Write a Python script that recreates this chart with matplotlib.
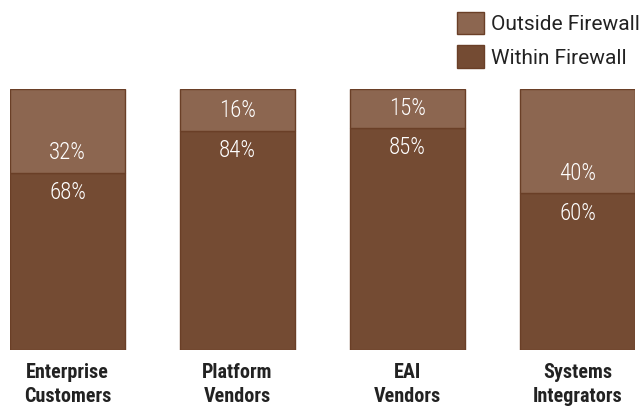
import matplotlib.pyplot as plt

categories = ["Enterprise\nCustomers", "Platform\nVendors", "EAI\nVendors", "Systems\nIntegrators"]
within = [68, 84, 85, 60]
outside = [32, 16, 15, 40]
series_names = ["Within Firewall", "Outside Firewall"]

c_within = "#744b33"
c_outside = "#8c6650"
c_edge = "#6a3f27"
cond = ["Roboto Condensed", "Roboto", "DejaVu Sans"]
regular = ["Roboto", "DejaVu Sans"]

W, H = 641, 409
fig = plt.figure(figsize=(W / 100, H / 100), dpi=100)
ax = fig.add_axes([10 / W, (H - 350) / H, 625 / W, 261 / H])

w = 0.677
x = list(range(len(categories)))
b1 = ax.bar(x, within, w, color=c_within, edgecolor=c_edge, linewidth=1)
b2 = ax.bar(x, outside, w, bottom=within, color=c_outside, edgecolor=c_edge, linewidth=1)

ax.set_xlim(-w / 2, len(x) - 1 + w / 2)
ax.set_ylim(0, 100)
ax.axis("off")

for i in x:
    ax.annotate(f"{outside[i]}%", (i, within[i]), xytext=(0, 6), textcoords="offset points",
                ha="center", va="bottom", color="white", fontsize=16.5, fontweight="light",
                family=cond)
    ax.annotate(f"{within[i]}%", (i, within[i]), xytext=(0, -6), textcoords="offset points",
                ha="center", va="top", color="white", fontsize=16.5, fontweight="light",
                family=cond)
    ax.annotate(categories[i], (i, 0), xytext=(0, -9), textcoords="offset points",
                ha="center", va="top", color="#222222", fontsize=14.5, fontweight="bold",
                family=cond, linespacing=1.4)

leg = fig.legend([b2, b1], [series_names[1], series_names[0]], loc="upper left",
                 bbox_to_anchor=(457 / W, 1 - 12 / H), frameon=False,
                 handlelength=1.3, handleheight=1.25, handletextpad=0.35,
                 labelspacing=0.55, borderpad=0, borderaxespad=0,
                 prop={"family": regular, "size": 15})
for t in leg.get_texts():
    t.set_color("#222222")

fig.savefig("out.png", dpi=100)
